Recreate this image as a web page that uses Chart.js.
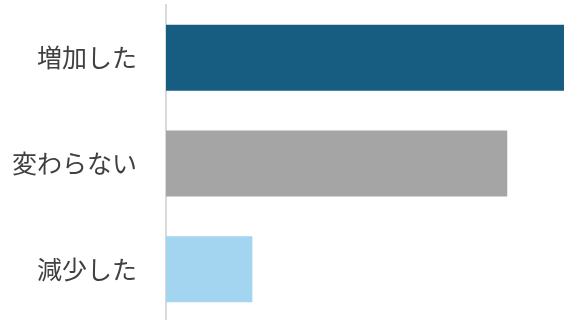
<!DOCTYPE html>
<html>
<head>
<meta charset="utf-8">
<script src="https://cdn.jsdelivr.net/npm/chart.js@4"></script>
<style>
  html,body{margin:0;padding:0;background:#fff;overflow:hidden;}
  canvas{display:block;}
</style>
</head>
<body>
<canvas id="answerChart" width="564" height="327"></canvas>
<script>
// 回答の分布（%）
const categories = ['増加した', '変わらない', '減少した'];
const shares = [47, 40.3, 10.2];
const barColors = ['#175d82', '#a5a5a5', '#a3d5f0'];

const ctx = document.getElementById('answerChart').getContext('2d');
new Chart(ctx, {
  type: 'bar',
  data: {
    labels: categories,
    datasets: [{
      data: shares,
      backgroundColor: barColors,
      borderWidth: 0,
      categoryPercentage: 1,
      barPercentage: 0.625
    }]
  },
  options: {
    indexAxis: 'y',
    responsive: false,
    animation: false,
    layout: { padding: 0 },
    plugins: {
      legend: { display: false },
      tooltip: { enabled: false }
    },
    scales: {
      x: {
        display: false,
        min: 0,
        max: 47
      },
      y: {
        // tick marks hidden; tickLength only spaces the labels off the axis
        grid: { display: false, drawTicks: true, tickLength: 29 },
        border: { display: true, color: '#d9d9d9', width: 2 },
        ticks: {
          padding: 0,
          color: '#404040',
          font: { family: '"Noto Sans CJK JP", sans-serif', size: 25, lineHeight: 0.4 }
        },
        afterFit: (s) => { s.width = 166; }
      }
    }
  }
});
</script>
</body>
</html>
